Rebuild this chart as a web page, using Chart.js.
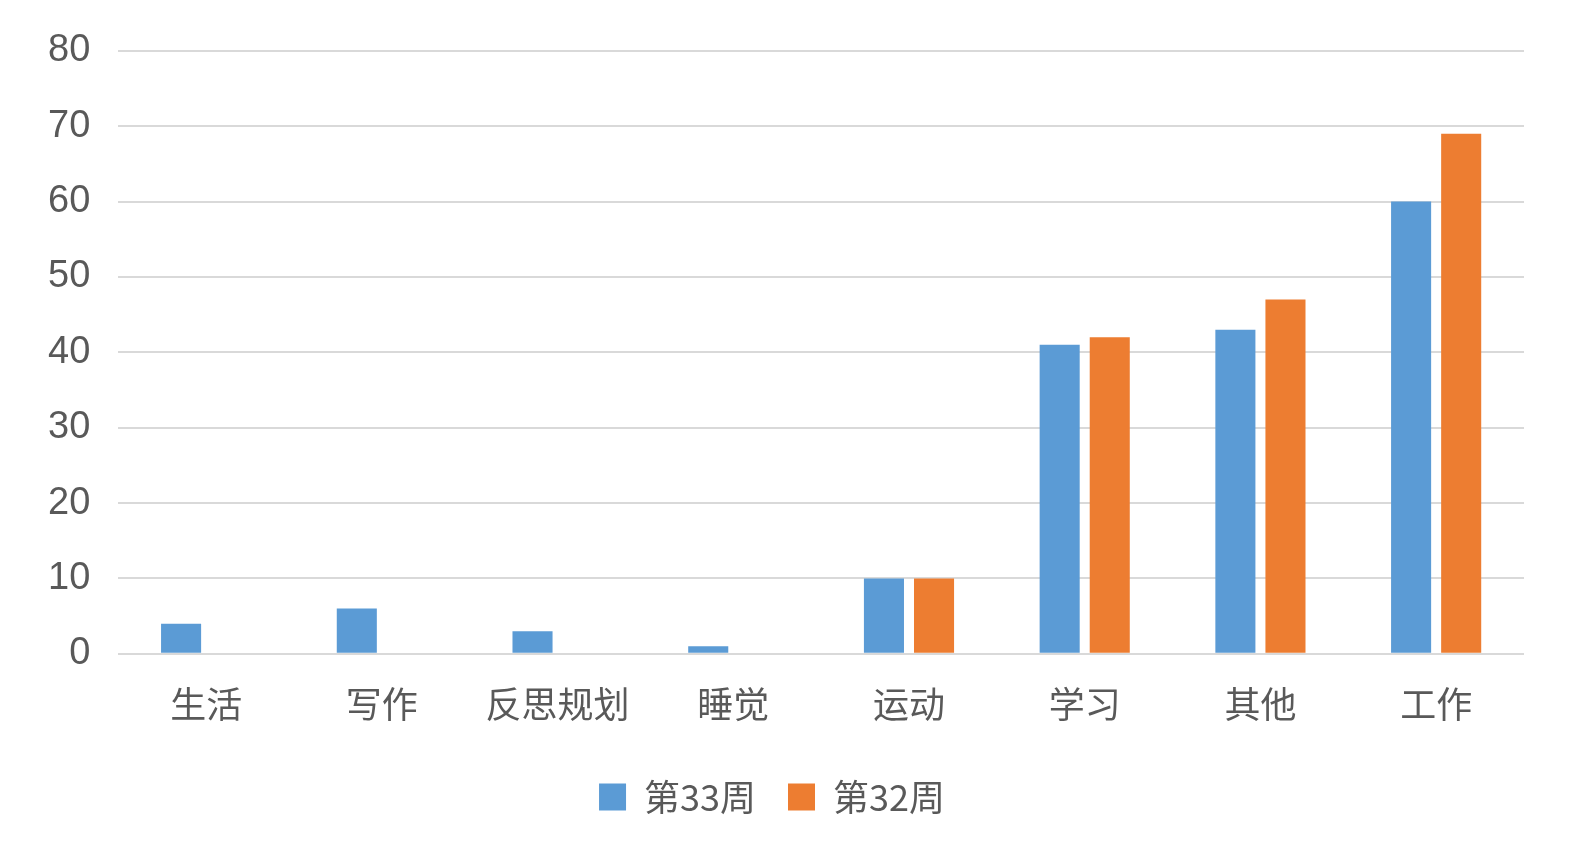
<!DOCTYPE html>
<html><head><meta charset="utf-8">
<script src="https://cdn.jsdelivr.net/npm/chart.js@4"></script>
<style>html,body{margin:0;padding:0;background:#fff}#w{width:1574px;height:865px}</style>
</head><body><div id="w"><canvas id="c"></canvas></div>
<script>
const categories = ["生活","写作","反思规划","睡觉","运动","学习","其他","工作"];
const week33 = [4,6,3,1,10,41,43,60];
const week32 = [0,0,0,0,10,42,47,69];
const seriesNames = ["第33周","第32周"];
const F = '"Noto Sans CJK SC", "Noto Sans", sans-serif';
new Chart(document.getElementById('c'), {
  type:'bar',
  data:{labels:categories,datasets:[
    {label:seriesNames[0],data:week33,backgroundColor:'#5B9BD5'},
    {label:seriesNames[1],data:week32,backgroundColor:'#ED7D31'}
  ]},
  options:{
    responsive:true,maintainAspectRatio:false,animation:false,
    layout:{padding:{left:20,right:50,top:33,bottom:40}},
    datasets:{bar:{categoryPercentage:0.57,barPercentage:0.8}},
    plugins:{legend:{position:'bottom',labels:{font:{family:F,size:36},color:'#595959',boxWidth:27,boxHeight:27,padding:32}},tooltip:{enabled:false}},
    scales:{
      x:{grid:{display:false},border:{display:false},ticks:{font:{family:F,size:36},color:'#595959',padding:21}},
      y:{min:0,max:80,ticks:{stepSize:10,font:{family:'"Liberation Sans", Arial, sans-serif',size:38},color:'#595959',padding:28},
         grid:{color:'#d9d9d9',lineWidth:2,drawTicks:false},border:{display:false}}
    }
  }
});
</script></body></html>
